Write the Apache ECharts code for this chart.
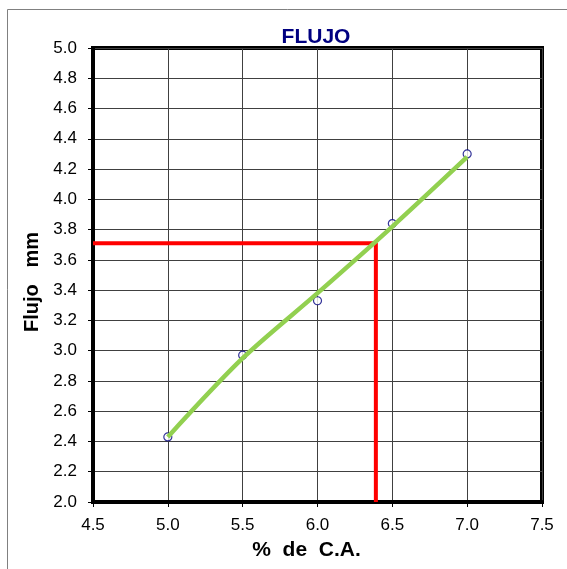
<!DOCTYPE html>
<html>
<head>
<meta charset="utf-8">
<script src="https://cdn.jsdelivr.net/npm/echarts@6/dist/echarts.min.js"></script>
<style>
  html, body { margin: 0; padding: 0; background: #fff; }
  #box { width: 567px; height: 569px; }
</style>
</head>
<body>
<div id="box"></div>
<script>
window.onload = function () {

    var myChart = echarts.init(document.getElementById('box'));

    // puntos medidos
    var pctCA = [5.0, 5.5, 6.0, 6.5, 7.0];
    var flujo = [2.43, 2.97, 3.33, 3.84, 4.30];

    // linea de tendencia
    var trendX = [5.0, 5.5, 6.0, 6.5, 7.0];
    var trendY = [2.43, 2.95, 3.38, 3.82, 4.28];

    // lectura del valor optimo
    var optX = 6.39;
    var optY = 3.71;

    var xMin = 4.5, xMax = 7.5;
    var yMin = 2.0, yMax = 5.0;

    function pairs(xs, ys) {
        return xs.map(function (x, i) { return [x, ys[i]]; });
    }

    var font = 'Liberation Sans, Arial, sans-serif';

    option = {
        animation: false,
        backgroundColor: '#fff',
        title: {
            text: 'FLUJO',
            left: 311,
            textAlign: 'center',
            top: 22,
            textStyle: {
                color: '#000080',
                fontSize: 21,
                fontWeight: 'bold',
                fontFamily: font
            }
        },
        graphic: [{
            type: 'rect',
            left: 5,
            top: 7,
            shape: { width: 600, height: 600 },
            style: { fill: 'none', stroke: '#808080', lineWidth: 1 },
            silent: true
        }],
        grid: {
            left: 93,
            right: 25,
            top: 48,
            bottom: 67,
            show: true,
            borderColor: '#000',
            borderWidth: 4
        },
        xAxis: {
            type: 'value',
            min: xMin,
            max: xMax,
            interval: 0.5,
            name: '%  de  C.A.',
            nameLocation: 'middle',
            nameGap: 38,
            nameTextStyle: {
                color: '#000',
                fontSize: 21,
                fontWeight: 'bold',
                fontFamily: font,
                padding: [0, 22, 0, 0]
            },
            axisLine: { lineStyle: { color: '#000', width: 4 } },
            axisTick: { show: true, length: 5, lineStyle: { color: '#000', width: 1 } },
            axisLabel: {
                color: '#000',
                fontSize: 17,
                fontFamily: font,
                margin: 15,
                formatter: function (v) { return v.toFixed(1); }
            },
            splitLine: { show: true, lineStyle: { color: '#404040', width: 1 } }
        },
        yAxis: {
            type: 'value',
            min: yMin,
            max: yMax,
            interval: 0.2,
            name: 'Flujo   mm',
            nameLocation: 'middle',
            nameGap: 51,
            nameRotate: 90,
            nameTextStyle: {
                color: '#000',
                fontSize: 20,
                fontWeight: 'bold',
                fontFamily: font,
                padding: [0, 14, 0, 0]
            },
            axisLine: { lineStyle: { color: '#000', width: 4 } },
            axisTick: { show: true, length: 5, lineStyle: { color: '#000', width: 1 } },
            axisLabel: {
                color: '#000',
                fontSize: 17,
                fontFamily: font,
                margin: 16,
                formatter: function (v) { return v.toFixed(1); }
            },
            splitLine: { show: true, lineStyle: { color: '#404040', width: 1 } }
        },
        series: [{
            type: 'line',
            data: [[xMin, optY], [optX, optY], [optX, yMin]],
            symbol: 'none',
            lineStyle: { color: '#ff0000', width: 4 },
            z: 3
        }, {
            type: 'scatter',
            data: pairs(pctCA, flujo),
            symbol: 'circle',
            symbolSize: 8,
            itemStyle: { color: '#fff', borderColor: '#000080', borderWidth: 1.2 },
            z: 4
        }, {
            type: 'line',
            data: pairs(trendX, trendY),
            smooth: 0.3,
            symbol: 'none',
            lineStyle: { color: '#92d050', width: 4.5 },
            z: 5
        }]
    };
    myChart.setOption(option);
    window.addEventListener('resize', function () {
        myChart.resize();
    });
}
</script>
</body>
</html>
